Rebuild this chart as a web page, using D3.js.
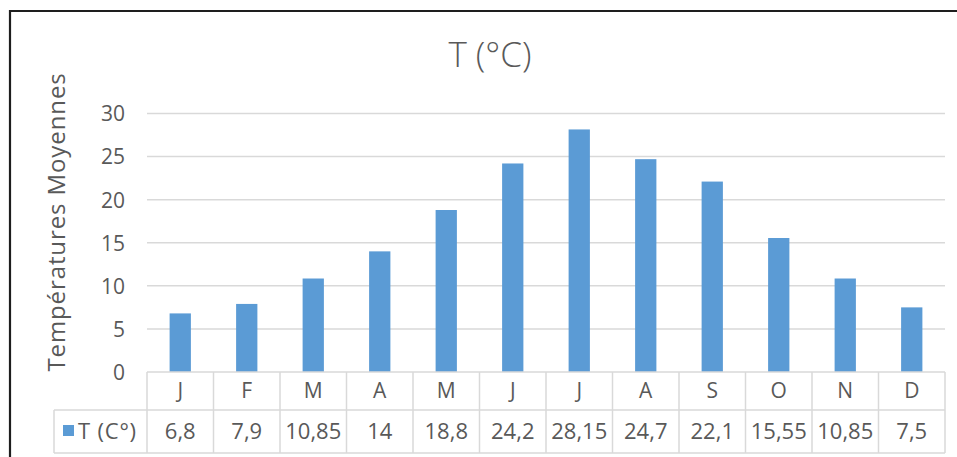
<!DOCTYPE html>
<html>
<head>
<meta charset="utf-8">
<script src="https://cdn.jsdelivr.net/npm/d3@7"></script>
<style>
  html, body { margin: 0; padding: 0; background: #fff; }
  svg { display: block; font-family: "Open Sans", "Liberation Sans", sans-serif; }
</style>
</head>
<body>
<svg id="chart" width="957" height="457"></svg>
<script>
// Monthly mean temperatures
const months = ["J", "F", "M", "A", "M", "J", "J", "A", "S", "O", "N", "D"];
const temps = [6.8, 7.9, 10.85, 14, 18.8, 24.2, 28.15, 24.7, 22.1, 15.55, 10.85, 7.5];
const valueLabels = ["6,8", "7,9", "10,85", "14", "18,8", "24,2", "28,15", "24,7", "22,1", "15,55", "10,85", "7,5"];
const yTicks = [0, 5, 10, 15, 20, 25, 30];
const seriesName = "T (C°)";
const chartTitle = "T (°C)";
const yTitle = "Températures Moyennes";

const svg = d3.select("#chart");
const textColor = "#595959";
const gridColor = "#D9D9D9";
const barColor = "#5B9BD5";

const plot = { left: 147, right: 945, top: 113.5, bottom: 372 };
const tableRow1 = 410, tableBottom = 453, legendLeft = 54;

const x = d3.scaleBand()
  .domain(d3.range(months.length))
  .range([plot.left, plot.right])
  .paddingInner(0).paddingOuter(0);

const y = d3.scaleLinear()
  .domain([0, 30])
  .range([plot.bottom, plot.top]);

// outer frame
svg.append("path")
  .attr("d", `M10,457 V11 H957`)
  .attr("fill", "none")
  .attr("stroke", "#1e1e1e")
  .attr("stroke-width", 2.2);

// title
svg.append("text")
  .attr("x", 490).attr("y", 67)
  .attr("text-anchor", "middle")
  .attr("font-size", 35)
  .attr("font-weight", 300)
  .attr("fill", textColor)
  .text(chartTitle);

// gridlines
svg.append("g")
  .selectAll("line")
  .data(yTicks.filter(d => d > 0))
  .join("line")
  .attr("x1", plot.left).attr("x2", plot.right)
  .attr("y1", d => y(d)).attr("y2", d => y(d))
  .attr("stroke", gridColor).attr("stroke-width", 1.5);

// y axis labels
const yAxis = d3.axisLeft(y).tickValues(yTicks).tickSize(0).tickPadding(0);
const gy = svg.append("g")
  .attr("transform", `translate(125,0)`)
  .call(yAxis);
gy.select(".domain").remove();
gy.selectAll("text")
  .attr("font-size", 21)
  .attr("font-family", "'Open Sans', sans-serif")
  .attr("fill", textColor)
  .attr("dy", "0.35em");

// y title
svg.append("text")
  .attr("transform", `translate(65,222) rotate(-90)`)
  .attr("text-anchor", "middle")
  .attr("font-size", 24)
  .attr("letter-spacing", 0.9)
  .attr("fill", textColor)
  .text(yTitle);

// bars
const barW = x.bandwidth() * 0.32;
svg.append("g")
  .selectAll("rect")
  .data(temps)
  .join("rect")
  .attr("x", (d, i) => x(i) + (x.bandwidth() - barW) / 2)
  .attr("width", barW)
  .attr("y", d => y(d))
  .attr("height", d => y(0) - y(d))
  .attr("fill", barColor);

// data table
const table = svg.append("g").attr("stroke", gridColor).attr("stroke-width", 1.5).attr("fill", "none");
table.append("line").attr("x1", plot.left).attr("x2", plot.right).attr("y1", plot.bottom).attr("y2", plot.bottom);
table.append("line").attr("x1", legendLeft).attr("x2", plot.right).attr("y1", tableRow1).attr("y2", tableRow1);
table.append("line").attr("x1", legendLeft).attr("x2", plot.right).attr("y1", tableBottom).attr("y2", tableBottom);
table.append("line").attr("x1", legendLeft).attr("x2", legendLeft).attr("y1", tableRow1).attr("y2", tableBottom);
const edges = d3.range(months.length).map(i => x(i)).concat([plot.right]);
table.selectAll("line.col")
  .data(edges)
  .join("line")
  .attr("class", "col")
  .attr("x1", d => d).attr("x2", d => d)
  .attr("y1", plot.bottom).attr("y2", tableBottom);

// category labels
svg.append("g")
  .selectAll("text")
  .data(months)
  .join("text")
  .attr("x", (d, i) => x(i) + x.bandwidth() / 2)
  .attr("y", (plot.bottom + tableRow1) / 2)
  .attr("dy", "0.35em")
  .attr("text-anchor", "middle")
  .attr("font-size", 21)
  .attr("fill", textColor)
  .text(d => d);

// value labels
svg.append("g")
  .selectAll("text")
  .data(valueLabels)
  .join("text")
  .attr("x", (d, i) => x(i) + x.bandwidth() / 2)
  .attr("y", (tableRow1 + tableBottom) / 2)
  .attr("dy", "0.35em")
  .attr("text-anchor", "middle")
  .attr("font-size", 22)
  .attr("fill", textColor)
  .text(d => d);

// legend key inside the table
svg.append("rect")
  .attr("x", 63).attr("y", 425)
  .attr("width", 11).attr("height", 11)
  .attr("fill", barColor);
svg.append("text")
  .attr("x", 78).attr("y", (tableRow1 + tableBottom) / 2)
  .attr("dy", "0.35em")
  .attr("font-size", 22)
  .attr("letter-spacing", 0.8)
  .attr("fill", textColor)
  .text(seriesName);
</script>
</body>
</html>
